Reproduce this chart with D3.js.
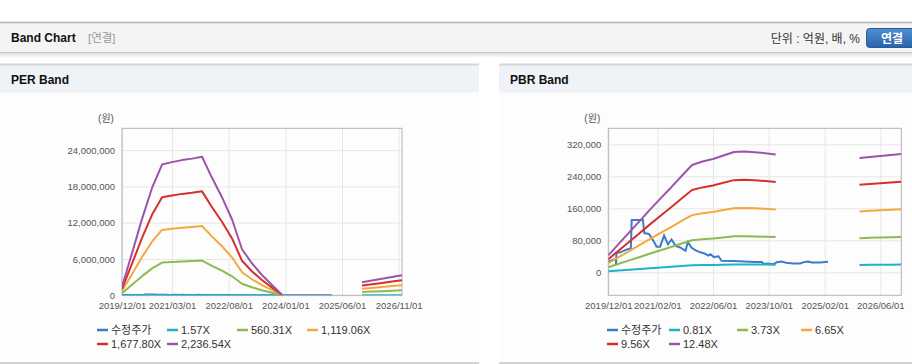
<!DOCTYPE html>
<html><head><meta charset="utf-8">
<script src="https://cdn.jsdelivr.net/npm/d3@7"></script>
<style>
body{margin:0;background:#fff}
svg{display:block;font-family:"Liberation Sans",Arial,"Noto Sans CJK KR",sans-serif}
</style>
</head><body>
<svg id="c" width="912" height="364"></svg>
<script>
// ---------------- DATA ----------------
const seriesColors = ['#3d7cc9','#1db4c6','#8dbb4f','#f5a83b','#d5302e','#9a56a6'];

const perLegend = ['수정주가','1.57X','560.31X','1,119.06X','1,677.80X','2,236.54X'];
const perMultiples = [1.57, 560.31, 1119.06, 1677.80, 2236.54];
const perTickDates = ['2019-12-01','2021-03-01','2022-08-01','2024-01-01','2025-06-01','2026-11-01'];
const perTickLabels = ['2019/12/01','2021/03/01','2022/08/01','2024/01/01','2025/06/01','2026/11/01'];
const perYTicks = [0, 6000000, 12000000, 18000000, 24000000];

const pbrLegend = ['수정주가','0.81X','3.73X','6.65X','9.56X','12.48X'];
const pbrMultiples = [0.81, 3.73, 6.65, 9.56, 12.48];
const pbrTickDates = ['2019-12-01','2021-02-01','2022-06-01','2023-10-01','2025-02-01','2026-06-01'];
const pbrTickLabels = ['2019/12/01','2021/02/01','2022/06/01','2023/10/01','2025/02/01','2026/06/01'];
const pbrYTicks = [0, 80000, 160000, 240000, 320000];

// EPS per quarter (null = gap)
const epsDates = ['2019-12-01','2020-03-01','2020-06-01','2020-09-01','2020-12-01','2021-03-01','2021-06-01','2021-09-01','2021-12-01',
  '2022-03-01','2022-06-01','2022-09-01','2022-12-01','2023-03-01','2023-06-01','2023-09-01','2023-12-01','2024-12-01',
  '2025-12-01','2026-03-01','2026-06-01','2026-09-01','2026-12-01'];
const epsValues = [640, 3100, 5650, 7950, 9660, 9840, 9990, 10100, 10240,
  8700, 7250, 5600, 3400, 2370, 1500, 760, 45, null,
  960, 1090, 1220, 1360, 1490];

// BPS per quarter (null = gap)
const bpsDates = epsDates;
const bpsValues = [3400, 5700, 8000, 10300, 12600, 14800, 17000, 19300, 21500,
  22200, 22700, 23400, 24100, 24200, 24050, 23850, 23600, null,
  22900, 23100, 23300, 23500, 23700];

// adjusted share price (수정주가)
const priceDates = ['2019-12-01','2020-01-01','2020-02-05','2020-02-07','2020-02-10','2020-03-15','2020-05-01','2020-06-15','2020-06-22',
  '2020-09-28','2020-10-10','2020-11-20','2021-01-05','2021-01-25','2021-02-25','2021-04-01','2021-05-05','2021-06-05','2021-07-10',
  '2021-08-20','2021-09-15','2021-10-05','2021-10-25','2021-11-25','2021-12-25','2022-02-10','2022-03-20','2022-04-20','2022-05-10',
  '2022-06-10','2022-07-20','2022-08-15','2022-12-01','2023-03-01','2023-06-01','2023-08-01','2023-08-20','2023-09-20','2023-11-10',
  '2023-12-10','2024-01-20','2024-03-01','2024-05-01','2024-07-01','2024-08-10','2024-09-10','2024-10-10','2024-12-20','2025-03-01'];
const priceValues = [26000, 30000, 33000, 18000, 48000, 50000, 56000, 60000, 131000,
  131000, 98000, 96000, 75000, 64000, 64000, 92000, 70000, 82000, 66000,
  62000, 57000, 54000, 76000, 62000, 56000, 50000, 47000, 42000, 45000,
  38000, 40000, 29000, 28500, 27000, 26000, 26000, 21000, 22000, 20000,
  25000, 27000, 24000, 22000, 22000, 26000, 27000, 24500, 24500, 26500];

// ---------------- DRAW ----------------
const svg = d3.select('#c');
const parse = d3.timeParse('%Y-%m-%d');
const defs = svg.append('defs');

// top header
svg.append('rect').attr('x',0).attr('y',22).attr('width',912).attr('height',30).attr('fill','#f4f4f4');
svg.append('line').attr('x1',0).attr('x2',912).attr('y1',22.5).attr('y2',22.5).attr('stroke','#b4b4b4').attr('stroke-width',1.5);
const sh = defs.append('linearGradient').attr('id','sh').attr('x1',0).attr('x2',0).attr('y1',0).attr('y2',1);
sh.append('stop').attr('offset',0).attr('stop-color','#d9d9d9');
sh.append('stop').attr('offset',1).attr('stop-color','#ffffff');
svg.append('rect').attr('x',0).attr('y',52).attr('width',912).attr('height',6).attr('fill','url(#sh)');
svg.append('line').attr('x1',0).attr('x2',912).attr('y1',52.5).attr('y2',52.5).attr('stroke','#c9c9c9');
svg.append('text').attr('x',11).attr('y',42).attr('font-size',12).attr('font-weight','bold').attr('fill','#111').text('Band Chart');
svg.append('text').attr('x',88).attr('y',42).attr('font-size',11.5).attr('fill','#999').text('[연결]');
svg.append('text').attr('x',860).attr('y',43).attr('font-size',12).attr('text-anchor','end').attr('fill','#333').text('단위 : 억원, 배, %');
const bg = defs.append('linearGradient').attr('id','btn').attr('x1',0).attr('x2',0).attr('y1',0).attr('y2',1);
bg.append('stop').attr('offset',0).attr('stop-color','#4f8fd4');
bg.append('stop').attr('offset',1).attr('stop-color','#2a63ab');
svg.append('rect').attr('x',866.5).attr('y',28.5).attr('width',52).attr('height',19).attr('rx',3)
  .attr('fill','url(#btn)').attr('stroke','#2a5c98');
svg.append('text').attr('x',892).attr('y',42.5).attr('font-size',12).attr('font-weight','bold')
  .attr('text-anchor','middle').attr('fill','#fff').text('연결');

function panel(x0, w, title) {
  svg.append('rect').attr('x',x0).attr('y',64).attr('width',w).attr('height',299).attr('fill','#fdfdfd');
  svg.append('rect').attr('x',x0).attr('y',65).attr('width',w).attr('height',27.5).attr('fill','#eff2f6');
  svg.append('rect').attr('x',x0).attr('y',63.5).attr('width',w).attr('height',2).attr('fill','#d6d6d6');
  svg.append('rect').attr('x',x0).attr('y',362).attr('width',w).attr('height',2).attr('fill','#d3d3d3');
  svg.append('text').attr('x',x0+11).attr('y',84).attr('font-size',12).attr('font-weight','bold').attr('fill','#111').text(title);
}
panel(0, 479, 'PER Band');
panel(499, 413, 'PBR Band');

function chart(cfg) {
  const x = d3.scaleTime().domain([parse('2019-12-01'), parse('2026-12-01')]).range([cfg.left, cfg.right]);
  const y = d3.scaleLinear().domain(cfg.yDomain).range([295.3, 128.3]);
  const w = cfg.right - cfg.left, h = 295.3 - 128.3;
  const g = svg.append('g');
  // grid
  g.append('g').attr('transform',`translate(${cfg.left},0)`)
    .call(d3.axisLeft(y).tickValues(cfg.yTicks).tickSize(-w).tickFormat(''))
    .call(s => { s.select('.domain').remove(); s.selectAll('line').attr('stroke','#e6e6e6'); });
  const tickD = cfg.tickDates.map(parse);
  g.append('g').attr('transform',`translate(0,295.3)`)
    .call(d3.axisBottom(x).tickValues(tickD).tickSize(-h).tickFormat(''))
    .call(s => { s.select('.domain').remove(); s.selectAll('line').attr('stroke','#e6e6e6'); });
  // frame
  g.append('rect').attr('x',cfg.left).attr('y',128.3).attr('width',w).attr('height',h)
    .attr('fill','none').attr('stroke','#b3b3b3');
  // labels
  g.append('g').attr('transform',`translate(${cfg.left},0)`)
    .call(d3.axisLeft(y).tickValues(cfg.yTicks).tickSize(0).tickPadding(7).tickFormat(d3.format(',')))
    .call(s => { s.select('.domain').remove(); s.selectAll('text').attr('font-size',9.5).attr('fill','#555')
      .attr('font-family','"Liberation Sans",Arial,sans-serif'); });
  g.append('g').attr('transform',`translate(0,295.3)`)
    .call(d3.axisBottom(x).tickValues(tickD).tickSize(0).tickPadding(7).tickFormat((d,i)=>cfg.tickLabels[i]))
    .call(s => { s.select('.domain').remove(); s.selectAll('text').attr('font-size',9.5).attr('fill','#555')
      .attr('font-family','"Liberation Sans",Arial,sans-serif'); });
  g.append('text').attr('x',cfg.left-16).attr('y',121.5).attr('font-size',10).attr('text-anchor','middle')
    .attr('fill','#555').text('(원)');
  // clip
  const cid = 'clip'+Math.round(cfg.left);
  defs.append('clipPath').attr('id',cid).append('rect').attr('x',cfg.left).attr('y',128.3).attr('width',w).attr('height',h);
  const lines = g.append('g').attr('clip-path',`url(#${cid})`);
  const line = d3.line().defined(d => d[1] != null).x(d => x(d[0])).y(d => y(d[1]));
  const priceData = priceDates.map((d,i)=>[parse(d), priceValues[i]]);
  lines.append('path').attr('d', line(priceData)).attr('fill','none').attr('stroke',seriesColors[0]).attr('stroke-width',2);
  cfg.multiples.forEach((m,k) => {
    const data = cfg.baseDates.map((d,i)=>[parse(d), cfg.baseValues[i]==null ? null : cfg.baseValues[i]*m]);
    lines.append('path').attr('d', line(data)).attr('fill','none').attr('stroke',seriesColors[k+1])
      .attr('stroke-width',2).attr('stroke-linejoin','round');
  });
  // legend
  cfg.legend.forEach((lab,i) => {
    const row = Math.floor(i/4), col = i%4;
    const lx = cfg.legendCols[col], ly = 330 + row*14;
    g.append('line').attr('x1',lx).attr('x2',lx+11).attr('y1',ly).attr('y2',ly)
      .attr('stroke',seriesColors[i]).attr('stroke-width',2.5);
    g.append('text').attr('x',lx+14).attr('y',ly).attr('dy','0.35em').attr('font-size',11).attr('fill','#333').text(lab);
  });
}

chart({left:122, right:402, yDomain:[0, 27600000], yTicks:perYTicks, tickDates:perTickDates, tickLabels:perTickLabels,
  multiples:perMultiples, baseDates:epsDates, baseValues:epsValues, legend:perLegend, legendCols:[97,167,237,307]});
chart({left:608.3, right:901.3, yDomain:[-57500, 360000], yTicks:pbrYTicks, tickDates:pbrTickDates, tickLabels:pbrTickLabels,
  multiples:pbrMultiples, baseDates:bpsDates, baseValues:bpsValues, legend:pbrLegend, legendCols:[607,669,737,801]});
</script>
</body></html>
